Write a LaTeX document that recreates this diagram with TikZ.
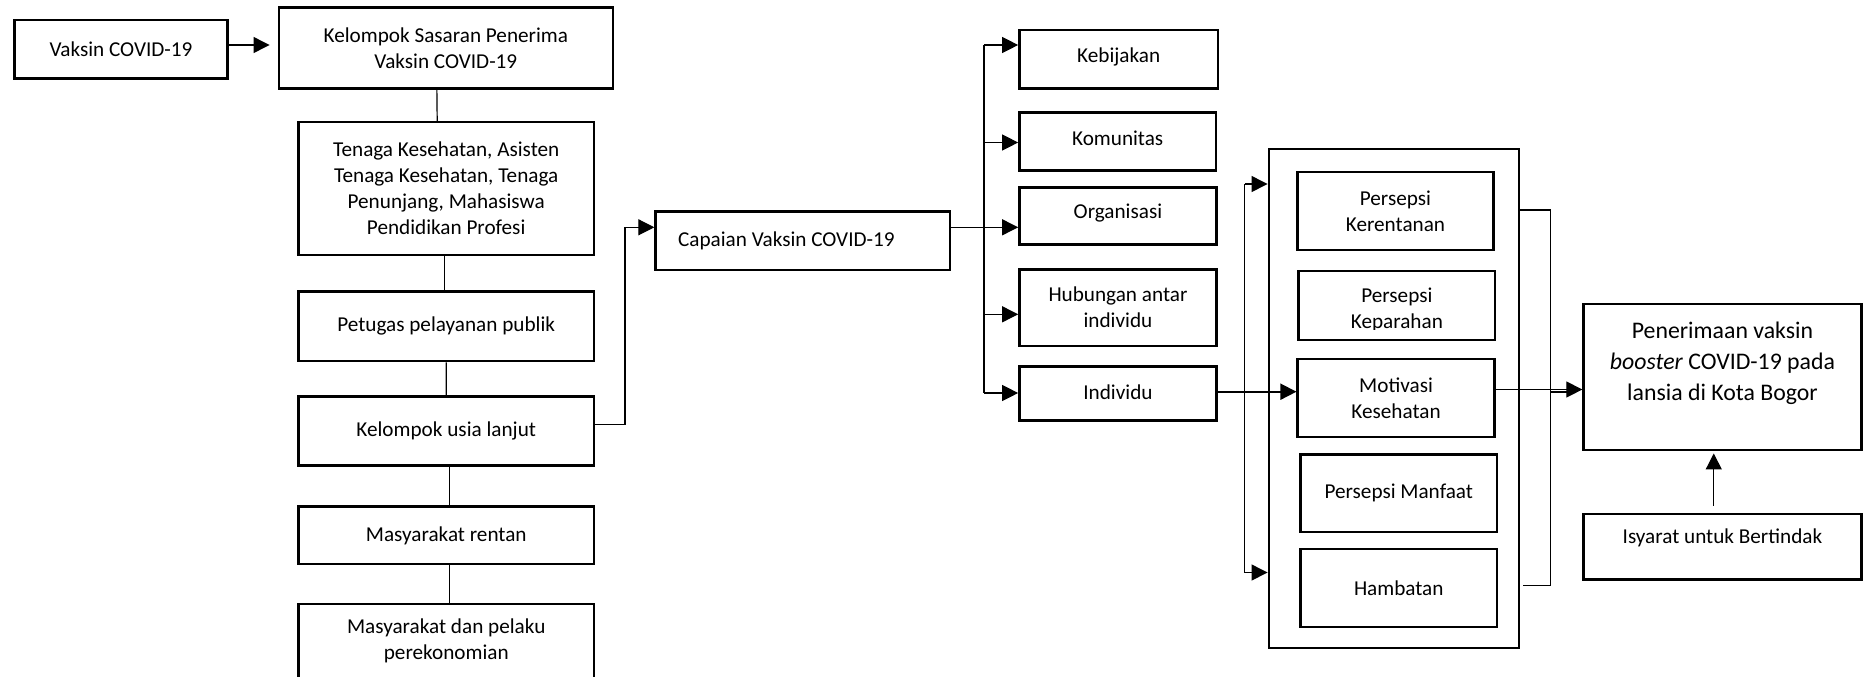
\documentclass[tikz,border=0pt]{standalone}
\usepackage{fontspec}
\setmainfont{Carlito}
\usetikzlibrary{arrows.meta,calc}
\newcommand{\mkbox}[9][]{%
  \node[box,minimum width={(#5-#3)*0.5pt},minimum height={(#6-#4)*0.5pt},#1] (#2) at ({(#3+#5)/2},{(#4+#6)/2}) {};
  \node[txt] (#2-t) at ($(#2)+(#7,#8)$) {#9};}
\begin{document}
\begin{tikzpicture}[x=0.5pt,y=-0.5pt,
  box/.style={draw,line width=1.25pt,inner sep=0pt},
  txt/.style={align=center,inner sep=0pt,font=\fontsize{10.6}{13}\selectfont},
  con/.style={line width=0.6pt},
  arr/.style={line width=0.6pt,-{Triangle[length=8pt,width=8pt]}}]
\useasboundingbox (0,0) rectangle (1868,676);

% left column
\mkbox{vak}{14.6}{20}{227.4}{78.3}{0}{0}{Vaksin COVID-19}
\mkbox{ks}{278.8}{7.3}{612.9}{88.3}{0}{0}{Kelompok Sasaran Penerima\\Vaksin COVID-19}
\mkbox{ten}{298.5}{122}{593.9}{255}{0}{0}{Tenaga Kesehatan, Asisten\\Tenaga Kesehatan, Tenaga\\Penunjang, Mahasiswa\\Pendidikan Profesi}
\mkbox{pet}{298.5}{291.7}{593.9}{361}{0}{0}{Petugas pelayanan publik}
\mkbox{usia}{298.5}{396.7}{594}{465.7}{0}{0}{Kelompok usia lanjut}
\mkbox{ras}{298.5}{506.7}{594}{564}{0}{0}{Masyarakat rentan}
\mkbox{mdp}{298.5}{604}{594}{690}{0}{-6}{Masyarakat dan pelaku\\perekonomian}

% middle
\mkbox{cap}{655.6}{211.7}{950.2}{270}{-16.5}{0}{Capaian Vaksin COVID-19}
\mkbox{keb}{1019.4}{30}{1217.9}{88.3}{0}{-2.5}{Kebijakan}
\mkbox{kom}{1019.4}{112.5}{1216}{170.5}{0}{-3}{Komunitas}
\mkbox{org}{1019.4}{187.3}{1216.5}{244.5}{0}{-2.5}{Organisasi}
\mkbox{hub}{1019.4}{269.3}{1216.5}{346}{0}{0}{Hubungan antar\\individu}
\mkbox{ind}{1019.4}{366.7}{1216.5}{420.7}{0}{-1.5}{Individu}

% HBM group
\node[box,minimum width={(1519.2-1268.8)*0.5pt},minimum height={(648.2-148.9)*0.5pt}] (hbm) at (1394,398.55) {};
\mkbox{ker}{1297.3}{172}{1493.6}{249.8}{0}{0}{Persepsi\\Kerentanan}
\node[box,minimum width={(1495.2-1298.5)*0.5pt},minimum height={(340-271.2)*0.5pt}] (kep) at ({(1298.5+1495.2)/2},{(271.2+340)/2}) {};
\begin{scope}
\clip (1298.5,271.2) rectangle (1495.2,329.7);
\node[txt] (kep-t) at ($(kep)+(0,4.5)$) {Persepsi\\Keparahan};
\end{scope}
\mkbox{mot}{1297.7}{359}{1494.4}{437.2}{0}{0}{Motivasi\\Kesehatan}
\mkbox{man}{1300.6}{454.4}{1496.9}{531.9}{0}{0}{Persepsi Manfaat}
\mkbox{ham}{1300.6}{549}{1496.9}{627}{0}{0}{Hambatan}

% right
\node[box,minimum width={(1861.3-1583.6)*0.5pt},minimum height={(450.2-303.9)*0.5pt}] (pen) at ({(1583.6+1861.3)/2},{(303.9+450.2)/2}) {};
\node[txt,font=\fontsize{11.9}{15.5}\selectfont] (pen-t) at ($(pen)+(0,-14)$) {Penerimaan vaksin\\\textit{booster} COVID-19 pada\\lansia di Kota Bogor};
\mkbox{isy}{1583.6}{514}{1861.3}{579.4}{0}{-9}{Isyarat untuk Bertindak}

% connectors left
\coordinate (va) at (0,45);
\draw[arr] (vak.east |- va) -- ($(ks.west |- va)+(-8,0)$);
\draw[con] ($(ks.south)+(-9,0)$) -- ($(ten.north)+(-9,0)$);
\draw[con] ($(ten.south)+(-2,0)$) -- ($(pet.north)+(-2,0)$);
\draw[con] (pet.south) -- (usia.north);
\draw[con] ($(usia.south)+(3,0)$) -- ($(ras.north)+(3,0)$);
\draw[con] ($(ras.south)+(3,0)$) -- ($(mdp.north)+(3,0)$);

\coordinate (c1) at (625,424.3);
\coordinate (c2) at (625,227.3);
\draw[arr] (usia.east |- c1) -- (c1) -- (c2) -- (cap.west |- c2);

% trunk
\coordinate (t1) at (984,45);
\coordinate (t2) at (984,142.5);
\coordinate (t3) at (984,227.3);
\coordinate (t4) at (984,314.3);
\coordinate (t5) at (984,393);
\draw[con,line width=0.8pt] (cap.east |- t3) -- (t3);
\draw[con] (t1) -- (t5);
\draw[arr] (t1) -- (keb.west |- t1);
\draw[arr] (t2) -- (kom.west |- t2);
\draw[arr] (t3) -- (org.west |- t3);
\draw[arr] (t4) -- (hub.west |- t4);
\draw[arr] (t5) -- (ind.west |- t5);

% individu to HBM
\coordinate (iy) at (0,391.7);
\draw[arr,line width=0.9pt] (ind.east |- iy) -- (mot.west |- iy);
\coordinate (v1) at (1244.8,184);
\coordinate (v2) at (1244.8,572.5);
\draw[con] (v1) -- (v2);
\draw[arr] (v1) -- (hbm.west |- v1);
\draw[arr] (v2) -- (hbm.west |- v2);

% HBM to outcome
\coordinate (b1) at (1550.6,210);
\coordinate (b2) at (1550.6,585.6);
\draw[con] (hbm.east |- b1) -- (b1) -- (b2) -- ($(hbm.east |- b2)+(3,0)$);
\coordinate (my) at (0,389.5);
\draw[arr] (mot.east |- my) -- (pen.west |- my);
\draw[con,line width=0.9pt] ($(b1 |- my)+(0,2.5)$) -- ($(pen.west |- my)+(-12,2.5)$);
\draw[arr] ($(isy.north)+(-8.7,-7)$) -- ($(pen.south)+(-8.7,2)$);
\end{tikzpicture}
\end{document}
